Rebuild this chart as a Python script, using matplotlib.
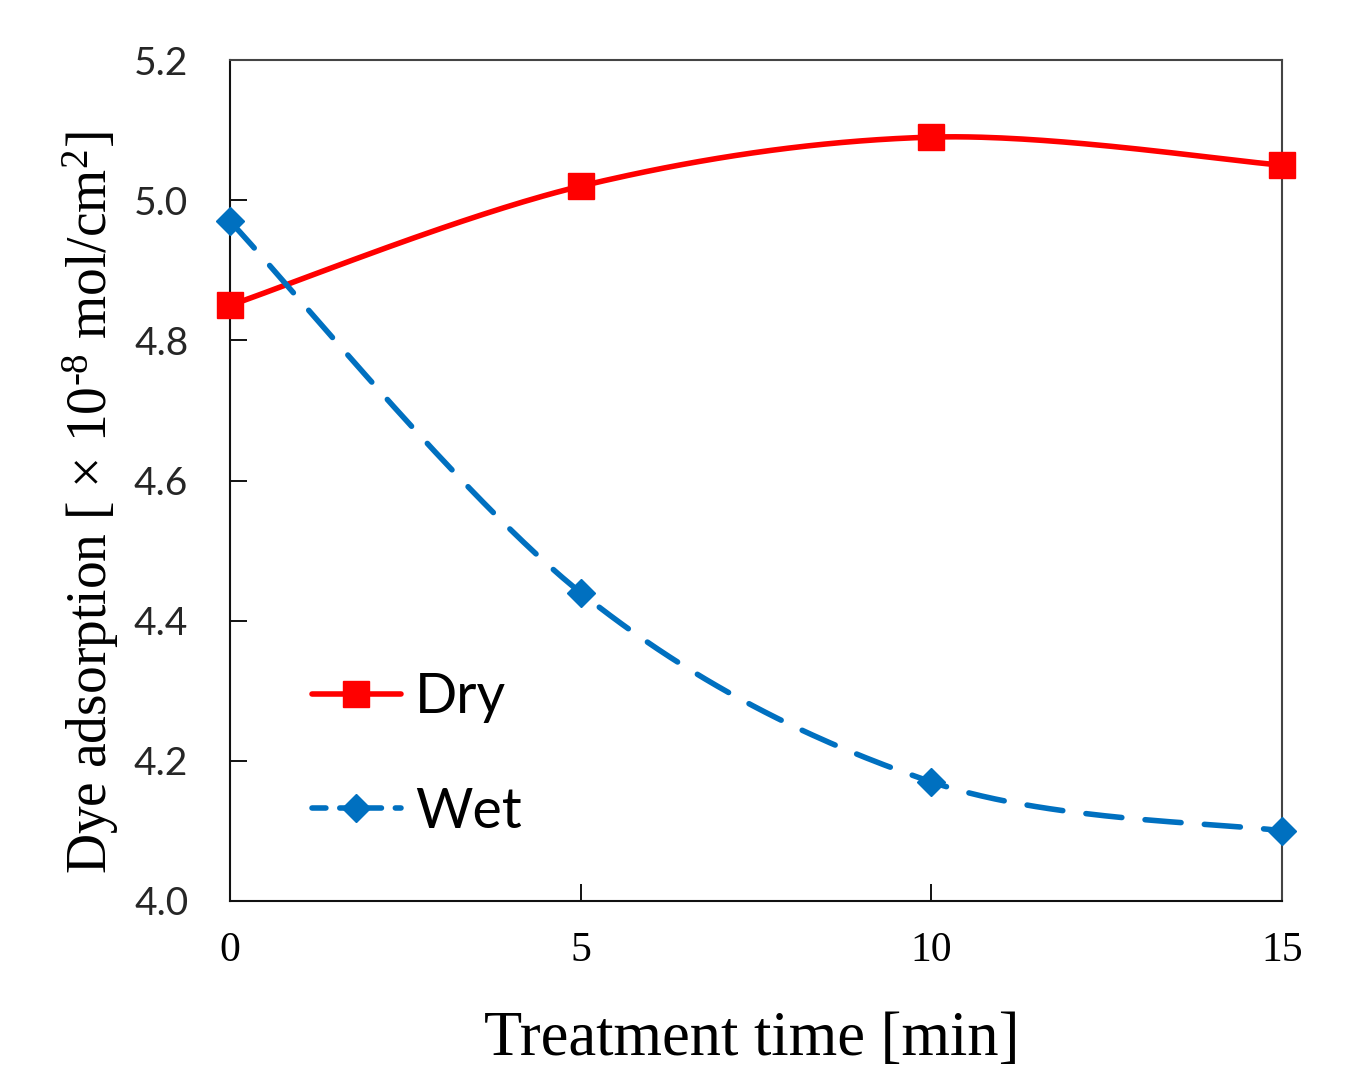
"""Dye adsorption versus treatment time for dry and wet samples."""

from __future__ import annotations

import matplotlib

matplotlib.use("Agg")
import numpy as np  # noqa: E402
from matplotlib import pyplot as plt  # noqa: E402
from matplotlib.lines import Line2D  # noqa: E402


TREATMENT_TIME = [0, 5, 10, 15]
DRY_ADSORPTION = [4.85, 5.02, 5.09, 5.05]
WET_ADSORPTION = [4.97, 4.44, 4.17, 4.10]
Y_TICKS = [4.0, 4.2, 4.4, 4.6, 4.8, 5.0, 5.2]
X_TICKS = [0, 5, 10, 15]

DRY_COLOR = "#ff0000"
WET_COLOR = "#0070c0"
SERIF = "Liberation Serif"
SANS = "Lato"


def _smooth(xs, ys, steps=60):
    """Catmull-Rom curve through the points, like a spreadsheet 'smoothed line'."""

    pts = np.column_stack([xs, ys]).astype(float)
    padded = np.vstack([pts[0], pts, pts[-1]])
    out = []
    t = np.linspace(0.0, 1.0, steps)[:, None]
    for i in range(1, len(padded) - 2):
        p0, p1, p2, p3 = padded[i - 1], padded[i], padded[i + 1], padded[i + 2]
        c1 = p1 + (p2 - p0) / 6.0
        c2 = p2 - (p3 - p1) / 6.0
        seg = ((1 - t) ** 3) * p1 + 3 * ((1 - t) ** 2) * t * c1 + 3 * (1 - t) * t**2 * c2 + t**3 * p2
        out.append(seg if i == 1 else seg[1:])
    curve = np.vstack(out)
    return curve[:, 0], curve[:, 1]


def main() -> None:
    plt.rcParams["mathtext.fontset"] = "custom"
    plt.rcParams["mathtext.rm"] = SERIF
    plt.rcParams["mathtext.it"] = SERIF

    fig = plt.figure(figsize=(13.48, 10.74), dpi=100)
    ax = fig.add_axes([0.1706, 0.1611, 0.7804, 0.7830])

    dash = (6.5, 4.2)
    lw = 4.0

    sx, sy = _smooth(TREATMENT_TIME, DRY_ADSORPTION)
    ax.plot(sx, sy, color=DRY_COLOR, lw=lw, solid_capstyle="round", clip_on=False, zorder=3)
    ax.plot(TREATMENT_TIME, DRY_ADSORPTION, ls="none", marker="s", ms=19,
            color=DRY_COLOR, clip_on=False, zorder=4)

    sx, sy = _smooth(TREATMENT_TIME, WET_ADSORPTION)
    ax.plot(sx, sy, color=WET_COLOR, lw=lw, dashes=dash, dash_capstyle="round",
            clip_on=False, zorder=3)
    ax.plot(TREATMENT_TIME, WET_ADSORPTION, ls="none", marker="D", ms=14,
            color=WET_COLOR, clip_on=False, zorder=4)

    ax.set_xlim(0, 15)
    ax.set_ylim(4.0, 5.2)
    ax.set_xticks(X_TICKS)
    ax.set_yticks(Y_TICKS)
    ax.set_xticklabels([str(v) for v in X_TICKS], fontfamily=SERIF, fontsize=30)
    ax.set_yticklabels([f"{v:.1f}" for v in Y_TICKS], fontfamily=SANS, fontsize=28,
                       color="#262626")
    ax.tick_params(axis="y", direction="in", length=12, width=1.3, pad=30)
    ax.tick_params(axis="x", direction="in", length=12, width=1.3, pad=22)
    for side in ("left", "bottom"):
        ax.spines[side].set_linewidth(1.5)
        ax.spines[side].set_color("#111111")
    for side in ("top", "right"):
        ax.spines[side].set_linewidth(1.5)
        ax.spines[side].set_color("#444444")

    handles = [
        Line2D([], [], color=DRY_COLOR, lw=lw, marker="s", ms=19, solid_capstyle="round"),
        Line2D([], [], color=WET_COLOR, lw=lw, dashes=(2.5, 2.5), dash_capstyle="round",
               marker="D", ms=14),
    ]
    ax.legend(handles, ["Dry", "Wet"], loc="lower left", bbox_to_anchor=(0.078, 0.075),
              frameon=False, prop={"family": SANS, "size": 40}, handlelength=1.6,
              handletextpad=0.25, labelspacing=1.15, borderpad=0, borderaxespad=0)

    fig.text(0.067, 0.532, r"Dye adsorption [ × 10$^{\text{-}8}$ mol/cm$^{2}$]", rotation=90,
             ha="center", va="center", fontfamily=SERIF, fontsize=40)
    fig.text(0.558, 0.032, "Treatment time [min]", ha="center", va="center",
             fontfamily=SERIF, fontsize=45)

    fig.savefig("out.png", dpi=100)
    plt.close(fig)


if __name__ == "__main__":
    main()
